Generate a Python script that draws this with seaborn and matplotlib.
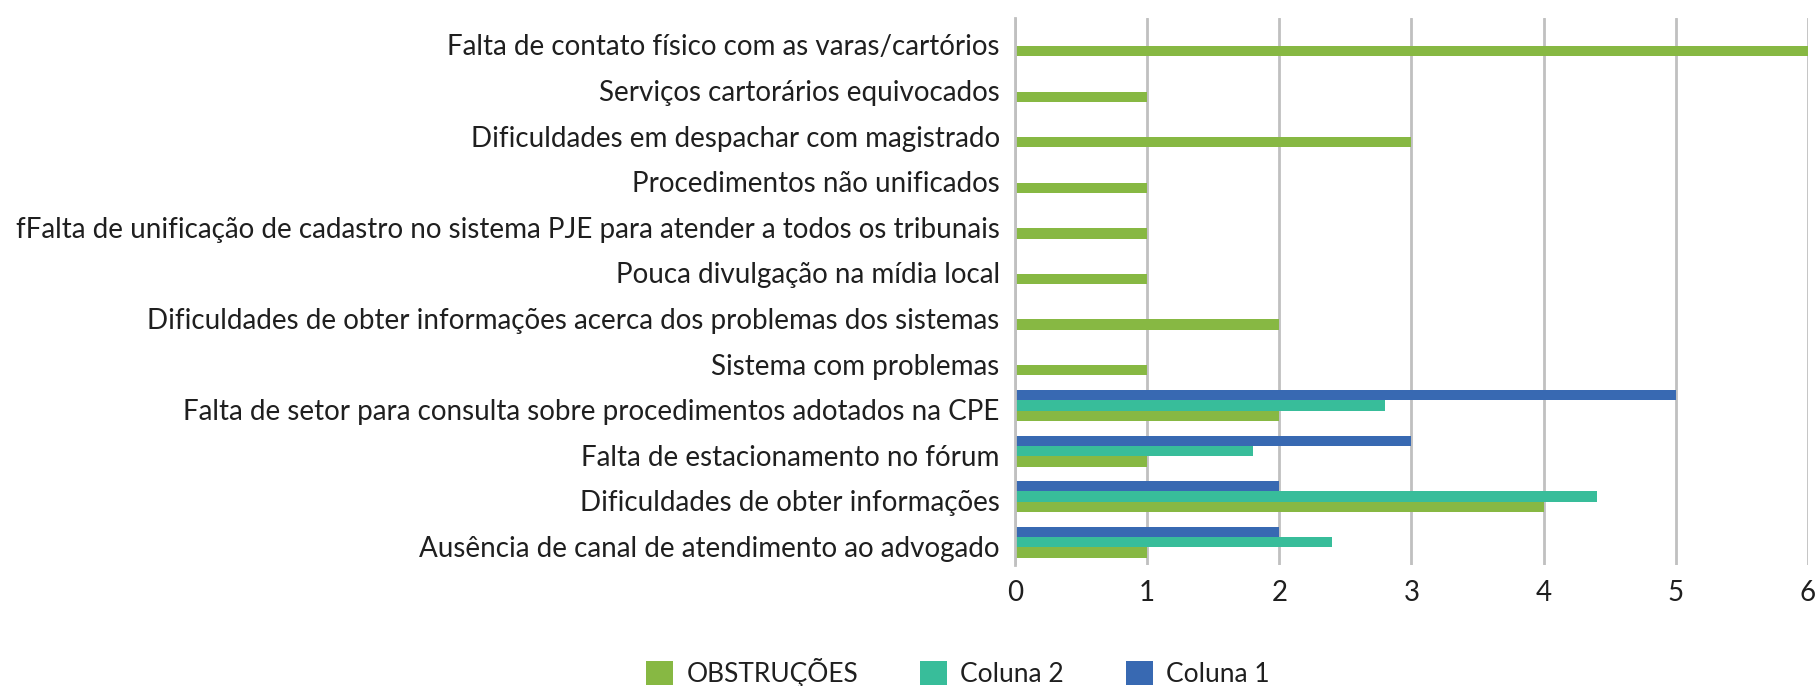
import matplotlib
matplotlib.use("Agg")
import matplotlib.pyplot as plt
import matplotlib.transforms as mtransforms
from matplotlib.patches import Patch
import seaborn as sns
import pandas as pd

categories = [
    "Falta de contato físico com as varas/cartórios",
    "Serviços cartorários equivocados",
    "Dificuldades em despachar com magistrado",
    "Procedimentos não unificados",
    "fFalta de unificação de cadastro no sistema PJE para atender a todos os tribunais",
    "Pouca divulgação na mídia local",
    "Dificuldades de obter informações acerca dos problemas dos sistemas",
    "Sistema com problemas",
    "Falta de setor para consulta sobre procedimentos adotados na CPE",
    "Falta de estacionamento no fórum",
    "Dificuldades de obter informações",
    "Ausência de canal de atendimento ao advogado",
]
obstrucoes = [6, 1, 3, 1, 1, 1, 2, 1, 2, 1, 4, 1]
coluna2 = [None, None, None, None, None, None, None, None, 2.8, 1.8, 4.4, 2.4]
coluna1 = [None, None, None, None, None, None, None, None, 5, 3, 2, 2]
x_ticks = [0, 1, 2, 3, 4, 5, 6]

series_names = ["OBSTRUÇÕES", "Coluna 2", "Coluna 1"]
series_values = [obstrucoes, coluna2, coluna1]
colors = {"OBSTRUÇÕES": "#87B843", "Coluna 2": "#38BD9A", "Coluna 1": "#3869B2"}

rows = []
for name, vals in zip(series_names, series_values):
    for cat, v in zip(categories, vals):
        if v is not None:
            rows.append({"categoria": cat, "serie": name, "valor": v})
df = pd.DataFrame(rows)

sns.set_theme(style="white")
plt.rcParams["font.family"] = ["Lato", "DejaVu Sans"]

fig = plt.figure(figsize=(18.18, 6.86), dpi=100)
ax = fig.add_axes([0.5583, 0.1764, 0.9945 - 0.5583, 0.9738 - 0.1764])

sns.barplot(
    data=df, y="categoria", x="valor", hue="serie",
    order=categories, hue_order=["Coluna 1", "Coluna 2", "OBSTRUÇÕES"],
    palette=colors, orient="h", width=0.68, errorbar=None,
    saturation=1, legend=False, ax=ax, linewidth=0,
)

ax.set_xlim(0, 6)
ax.set_xticks(x_ticks)
ax.set_xticklabels([str(t) for t in x_ticks])
ax.set_xlabel("")
ax.set_ylabel("")
ax.xaxis.grid(True, color="#C0C0C0", linewidth=2)
ax.yaxis.grid(False)
ax.set_axisbelow(True)
for side in ["top", "right", "bottom"]:
    ax.spines[side].set_visible(False)
ax.spines["left"].set_color("#C0C0C0")
ax.spines["left"].set_linewidth(2)

text_color = "#1f1f1f"
ax.tick_params(axis="y", length=0, pad=11, labelsize=20, labelcolor=text_color)
ax.tick_params(axis="x", length=5, width=2, color="#C0C0C0", direction="out",
               pad=6, labelsize=20, labelcolor=text_color)

# nudge category labels slightly downward
shift = mtransforms.ScaledTranslation(0, -3 / 72, fig.dpi_scale_trans)
for lbl in ax.get_yticklabels():
    lbl.set_transform(lbl.get_transform() + shift)

handles = [Patch(facecolor=colors[n], edgecolor="none", label=n) for n in series_names]
leg = fig.legend(
    handles=handles, loc="center", bbox_to_anchor=(0.527, 0.02), ncol=3,
    frameon=False, fontsize=19, handlelength=1.02, handleheight=1.02,
    handletextpad=0.5, columnspacing=2.35,
)
for t in leg.get_texts():
    t.set_color(text_color)

fig.savefig("out.png", dpi=100)
